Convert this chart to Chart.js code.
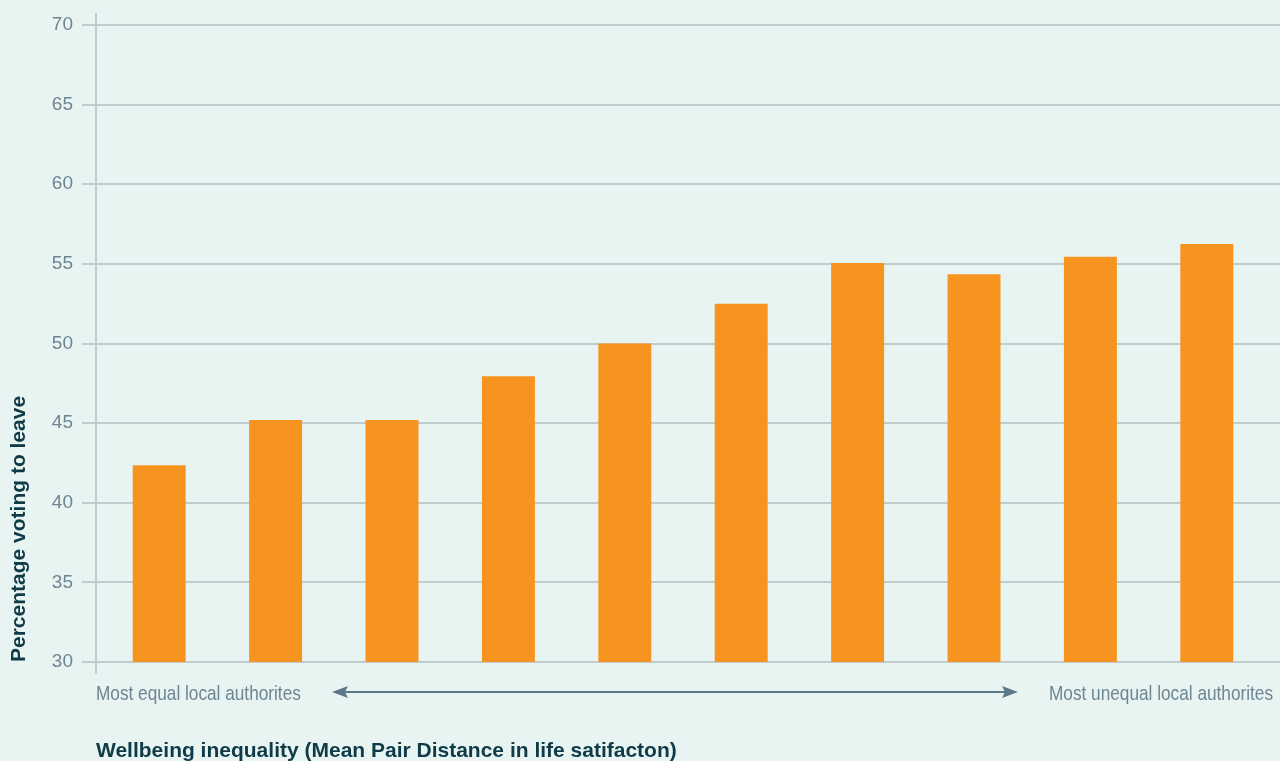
<!DOCTYPE html>
<html>
<head>
<meta charset="utf-8">
<script src="https://cdn.jsdelivr.net/npm/chart.js@4.4.1/dist/chart.umd.min.js"></script>
<style>
  html, body { margin: 0; padding: 0; background: #e8f4f2; }
  #wrap { width: 1280px; height: 761px; }
</style>
</head>
<body>
<div id="wrap"><canvas id="chart"></canvas></div>
<script>
// deciles of wellbeing inequality, most equal -> most unequal
const categories = ['1', '2', '3', '4', '5', '6', '7', '8', '9', '10'];
const leaveShare = [42.35, 45.2, 45.2, 47.95, 50.0, 52.5, 55.05, 54.35, 55.45, 56.25];
const yTicks = [30, 35, 40, 45, 50, 55, 60, 65, 70];

const gridColor = '#c0ccd0';
const tickColor = '#6e8594';
const titleColor = '#0f3a48';
const sans = '"Liberation Sans", Arial, sans-serif';

// narrow-looking text: squeeze a regular face horizontally
function narrowText(ctx, text, x, y, align) {
  ctx.save();
  ctx.font = '21px ' + sans;
  const w = ctx.measureText(text).width * 0.82;
  const left = align === 'right' ? x - w : x;
  ctx.translate(left, y);
  ctx.scale(0.82, 1);
  ctx.textAlign = 'left';
  ctx.fillText(text, 0, 0);
  ctx.restore();
}

// gridlines run past the plot area on both sides, plus the offset axis line
const gridPlugin = {
  id: 'gridPlugin',
  beforeDatasetsDraw(chart) {
    const { ctx, chartArea, scales: { y } } = chart;
    ctx.save();
    ctx.strokeStyle = gridColor;
    ctx.lineWidth = 2;
    yTicks.forEach(v => {
      const py = Math.round(y.getPixelForValue(v));
      ctx.beginPath();
      ctx.moveTo(82, py);
      ctx.lineTo(1280, py);
      ctx.stroke();
    });
    ctx.beginPath();
    ctx.moveTo(96, chartArea.top - 12);
    ctx.lineTo(96, chartArea.bottom + 12);
    ctx.stroke();
    ctx.restore();
  },
  afterDraw(chart) {
    const { ctx } = chart;
    ctx.save();
    // range labels under the axis
    ctx.fillStyle = tickColor;
    ctx.textBaseline = 'alphabetic';
    narrowText(ctx, 'Most equal local authorites', 96, 700, 'left');
    narrowText(ctx, 'Most unequal local authorites', 1273, 700, 'right');

    // double-headed arrow
    const ay = 692;
    ctx.strokeStyle = '#5d7888';
    ctx.fillStyle = '#5d7888';
    ctx.lineWidth = 2;
    ctx.beginPath();
    ctx.moveTo(340, ay);
    ctx.lineTo(1010, ay);
    ctx.stroke();
    ctx.beginPath();
    ctx.moveTo(332, ay);
    ctx.lineTo(348, ay - 6);
    ctx.lineTo(345, ay);
    ctx.lineTo(348, ay + 6);
    ctx.closePath();
    ctx.fill();
    ctx.beginPath();
    ctx.moveTo(1018, ay);
    ctx.lineTo(1002, ay - 6);
    ctx.lineTo(1005, ay);
    ctx.lineTo(1002, ay + 6);
    ctx.closePath();
    ctx.fill();

    // x-axis title
    ctx.font = 'bold 21px ' + sans;
    ctx.fillStyle = titleColor;
    ctx.textAlign = 'left';
    ctx.fillText('Wellbeing inequality (Mean Pair Distance in life satifacton)', 96, 757);
    ctx.restore();
  }
};

new Chart(document.getElementById('chart'), {
  type: 'bar',
  data: {
    labels: categories,
    datasets: [{
      data: leaveShare,
      backgroundColor: '#f7941f',
      borderWidth: 0,
      barPercentage: 0.455,
      categoryPercentage: 1.0
    }]
  },
  options: {
    responsive: true,
    maintainAspectRatio: false,
    animation: false,
    layout: { padding: { top: 25, bottom: 99, right: 15, left: 0 } },
    plugins: {
      legend: { display: false },
      tooltip: { enabled: false }
    },
    scales: {
      x: { display: false },
      y: {
        min: 30,
        max: 70,
        afterFit(scale) {
          scale.width = 101;
          scale.paddingTop = 0;
          scale.paddingBottom = 0;
        },
        afterBuildTicks(scale) { scale.ticks = yTicks.map(v => ({ value: v })); },
        grid: { display: false, drawTicks: false },
        border: { display: false },
        ticks: {
          color: tickColor,
          padding: 28,
          font: { family: sans, size: 19 }
        },
        title: {
          display: true,
          text: 'Percentage voting to leave',
          align: 'start',
          color: titleColor,
          padding: { top: 7, bottom: 0 },
          font: { family: sans, size: 21, weight: 'bold' }
        }
      }
    }
  },
  plugins: [gridPlugin]
});
</script>
</body>
</html>
